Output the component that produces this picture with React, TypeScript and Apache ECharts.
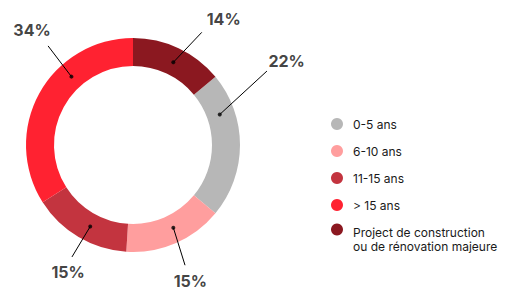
import React, { useEffect, useRef } from "react";
import * as echarts from "echarts";

// ---- data ----
const categories = [
  "0-5 ans",
  "6-10 ans",
  "11-15 ans",
  "> 15 ans",
  "Project de construction\nou de rénovation majeure",
];
const values = [22, 15, 15, 34, 14];
const colors = ["#b7b7b7", "#ff9e9e", "#c3343f", "#ff2231", "#8b1820"];

// ---- layout (annotation placement relative to each slice's middle angle, degrees) ----
const dotShift = [-19.4, -2.6, -2.9, 19.2, 0.8];
const lineEndShift = [-28.9, 0, -2, 20.6, 6.2];
const lineEndR = [153, 131, 127.5, 130.5, 132];
const labelShift = [-28.6, 0.5, -3.6, 19.9, 10.6];
const labelR = [175, 147.5, 143, 153, 155];
const DOT_R = 92;
const CENTER = [133, 145];

export default function App() {
  const ref = useRef<HTMLDivElement>(null);
  useEffect(() => {
    document.body.style.margin = "0";
    const chart = echarts.init(ref.current!, null, { renderer: "svg" });
    const total = values.reduce((a, b) => a + b, 0);
    const startCw = (values[values.length - 1] / total) * 360;
    const mids: number[] = [];
    let acc = startCw;
    values.forEach((v) => {
      const span = (v / total) * 360;
      mids.push((acc + span / 2) % 360);
      acc += span;
    });
    const ang = (a: number) => (a + 360) % 360;

    const lineSeries = values.map((_, i) => ({
      type: "line",
      coordinateSystem: "polar",
      silent: true,
      symbol: "none",
      lineStyle: { color: "#000", width: 1 },
      data: [
        [DOT_R, ang(mids[i] + dotShift[i])],
        [lineEndR[i], ang(mids[i] + lineEndShift[i])],
      ],
      z: 5,
    }));

    const legendText = {
      fontFamily: "Inter",
      fontSize: 12,
      color: "#1a1a1a",
    };

    chart.setOption({
      animation: false,
      polar: { center: CENTER, radius: 200 },
      angleAxis: {
        type: "value",
        min: 0,
        max: 360,
        startAngle: 90,
        clockwise: true,
        show: false,
      },
      radiusAxis: { type: "value", min: 0, max: 200, show: false },
      legend: [
        {
          orient: "vertical",
          left: 331,
          top: 116,
          padding: 0,
          icon: "circle",
          itemWidth: 12,
          itemHeight: 12,
          itemGap: 11,
          selectedMode: false,
          textStyle: { ...legendText, lineHeight: 16, padding: [0, 0, 0, 5] },
          data: categories.slice(0, 4),
        },
        {
          orient: "vertical",
          left: 331,
          top: 205,
          padding: 0,
          icon: "circle",
          itemWidth: 12,
          itemHeight: 12,
          selectedMode: false,
          formatter: (name: string) =>
            "{gap|}\n" + name.split("\n").map((s) => "{t|" + s + "}").join("\n"),
          textStyle: {
            ...legendText,
            rich: {
              gap: { height: 20, lineHeight: 20 },
              t: { ...legendText, lineHeight: 14.5, padding: [0, 0, 0, 5] },
            },
          },
          data: categories.slice(4),
        },
      ],
      series: [
        {
          type: "pie",
          center: CENTER,
          radius: [79, 107],
          startAngle: 90 - startCw,
          clockwise: true,
          silent: true,
          label: { show: false },
          labelLine: { show: false },
          data: values.map((v, i) => ({
            name: categories[i],
            value: v,
            itemStyle: { color: colors[i] },
          })),
        },
        ...lineSeries,
        {
          type: "scatter",
          coordinateSystem: "polar",
          silent: true,
          symbolSize: 4,
          itemStyle: { color: "#000" },
          data: values.map((_, i) => [DOT_R, ang(mids[i] + dotShift[i])]),
          z: 6,
        },
        {
          type: "scatter",
          coordinateSystem: "polar",
          silent: true,
          symbolSize: 1,
          itemStyle: { color: "rgba(0,0,0,0)" },
          label: {
            show: true,
            position: "inside",
            fontFamily: "Inter",
            fontWeight: 700,
            fontSize: 16,
            lineHeight: 14,
            color: "#111",
            formatter: (p: any) => p.data.pct + "%",
          },
          data: values.map((v, i) => ({
            value: [labelR[i], ang(mids[i] + labelShift[i])],
            pct: v,
          })),
          z: 6,
        },
      ],
    });
    return () => chart.dispose();
  }, []);
  return <div ref={ref} style={{ width: 506, height: 291 }} />;
}
